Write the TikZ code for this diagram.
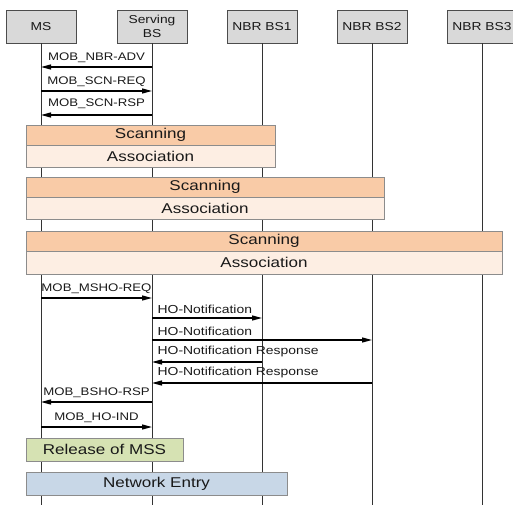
\documentclass[tikz,border=0pt]{standalone}
\usepackage{fontspec}
\setmainfont{Liberation Sans}[FakeStretch=1.2]
\usetikzlibrary{arrows.meta}
\definecolor{hdrfill}{HTML}{D9D9D9}
\definecolor{scanfill}{HTML}{F9CBA7}
\definecolor{assocfill}{HTML}{FDEEE3}
\definecolor{relfill}{HTML}{D6E2B3}
\definecolor{netfill}{HTML}{C8D7E7}
\definecolor{boxline}{HTML}{8C8C8C}
\tikzset{
  hdr/.style={draw=black!70, fill=hdrfill, line width=0.8pt, minimum width=70pt, minimum height=33pt, inner sep=0pt, align=center, font=\fontsize{11.5}{14}\selectfont, text=black!90},
  lifeline/.style={draw=black!80, line width=0.9pt},
  msg/.style={line width=1.3pt, -{Triangle[length=10pt,width=5pt]}},
  lbl/.style={font=\fontsize{11}{12}\selectfont, text=black!90, inner sep=0pt},
  hlbl/.style={font=\fontsize{11.6}{12}\selectfont, text=black!90, inner sep=0pt},
  phase/.style={draw=boxline, line width=0.8pt, inner sep=0pt, font=\fontsize{14.2}{15}\selectfont, text=black!90},
}
\begin{document}
\begin{tikzpicture}[x=1pt,y=-1pt]
\useasboundingbox (0,0) rectangle (513,505);
% headers
\node[hdr] (ms)   at (41,26.5)  {MS};
\node[hdr] (bs)   at (152,26.5) {Serving\\BS};
\node[hdr] (nbr1) at (262,26.5) {NBR BS1};
\node[hdr] (nbr2) at (372,26.5) {NBR BS2};
\node[hdr] (nbr3) at (482,26.5) {NBR BS3};
% lifeline ends
\coordinate (msE)   at (41,505);
\coordinate (bsE)   at (152,505);
\coordinate (nbr1E) at (262,505);
\coordinate (nbr2E) at (372,505);
\coordinate (nbr3E) at (482,505);
\draw[lifeline] (ms.south) -- (msE);
\draw[lifeline] (bs.south) -- (bsE);
\draw[lifeline] (nbr1.south) -- (nbr1E);
\draw[lifeline] (nbr2.south) -- (nbr2E);
\draw[lifeline] (nbr3.south) -- (nbr3E);
% first messages
\draw[msg] (bs.south |- 0,67) -- node[lbl, above=4pt] {MOB\_NBR-ADV} (ms.south |- 0,67);
\draw[msg] (ms.south |- 0,91) -- node[lbl, above=4pt] {MOB\_SCN-REQ} (bs.south |- 0,91);
\draw[msg] (bs.south |- 0,115) -- node[lbl, above=6pt] {MOB\_SCN-RSP} (ms.south |- 0,115);
% scanning / association phases
\node[phase, fill=scanfill, minimum width=249pt, minimum height=20pt] (scan1) at (150.5,135) {Scanning};
\node[phase, fill=assocfill, minimum width=249pt, minimum height=22pt] (assoc1) at (150.5,156) {Association};
\node[phase, fill=scanfill, minimum width=358pt, minimum height=20pt] (scan2) at (205,187) {Scanning};
\node[phase, fill=assocfill, minimum width=358pt, minimum height=22pt] (assoc2) at (205,208) {Association};
\node[phase, fill=scanfill, minimum width=476pt, minimum height=20pt] (scan3) at (264,241) {Scanning};
\node[phase, fill=assocfill, minimum width=476pt, minimum height=23pt] (assoc3) at (264,262.5) {Association};
% handover messages
\draw[msg] (ms.south |- 0,298) -- node[lbl, above=4pt] {MOB\_MSHO-REQ} (bs.south |- 0,298);
\draw[msg] (bs.south |- 0,318) -- node[hlbl, above=4pt, pos=0, anchor=south west, xshift=5pt] {HO-Notification} (nbr1.south |- 0,318);
\draw[msg] (bs.south |- 0,340) -- node[hlbl, above=4pt, pos=0, anchor=south west, xshift=5pt] {HO-Notification} (nbr2.south |- 0,340);
\draw[msg] (nbr1.south |- 0,362) -- node[hlbl, above=4pt, pos=1, anchor=south west, xshift=5pt] {HO-Notification Response} (bs.south |- 0,362);
\draw[msg] (nbr2.south |- 0,383) -- node[hlbl, above=4pt, pos=1, anchor=south west, xshift=5pt] {HO-Notification Response} (bs.south |- 0,383);
\draw[msg] (bs.south |- 0,402) -- node[lbl, above=4pt] {MOB\_BSHO-RSP} (ms.south |- 0,402);
\draw[msg] (ms.south |- 0,427) -- node[lbl, above=4pt] {MOB\_HO-IND} (bs.south |- 0,427);
% final phases
\node[phase, fill=relfill, minimum width=157pt, minimum height=23pt] (rel) at (104.5,449.5) {Release of MSS};
\node[phase, fill=netfill, minimum width=261pt, minimum height=23pt] (net) at (156.5,483.5) {Network Entry};
\end{tikzpicture}
\end{document}
